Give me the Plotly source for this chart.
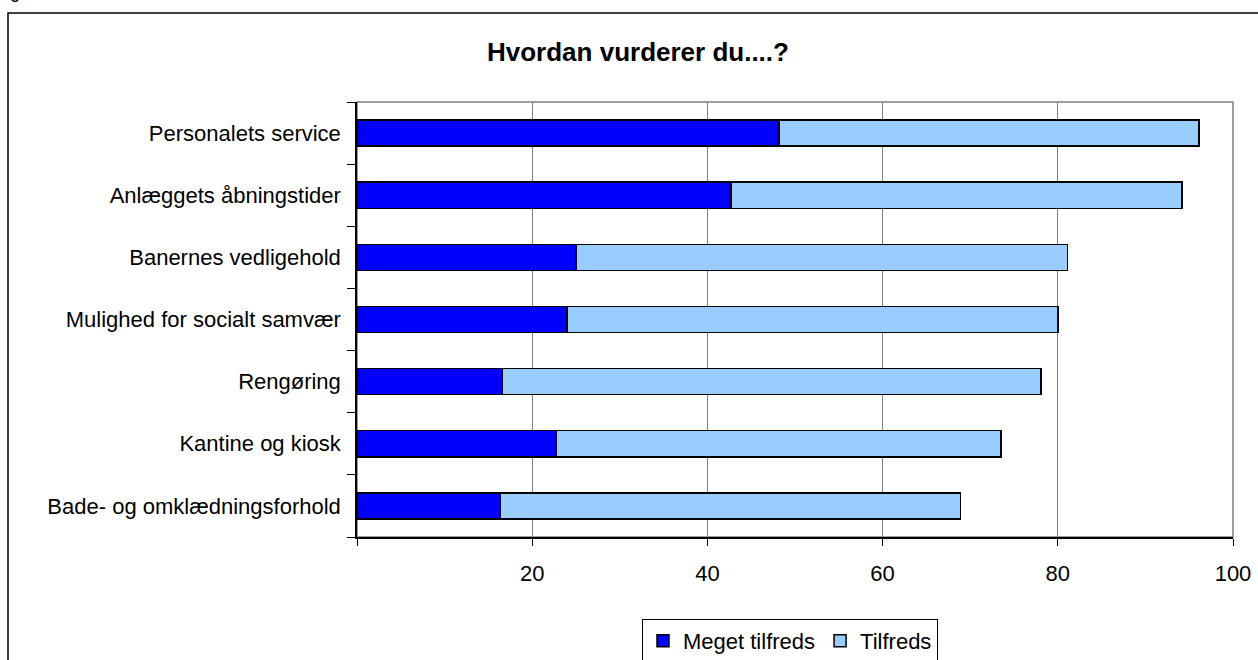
import plotly.graph_objects as go

categories = [
    "Personalets service",
    "Anlæggets åbningstider",
    "Banernes vedligehold",
    "Mulighed for socialt samvær",
    "Rengøring",
    "Kantine og kiosk",
    "Bade- og omklædningsforhold",
]
meget_tilfreds = [48.2, 42.7, 25.0, 24.0, 16.6, 22.8, 16.4]
tilfreds = [47.9, 51.5, 56.1, 56.0, 61.5, 50.7, 52.5]
x_ticks = [0, 20, 40, 60, 80, 100]
x_ticktext = ["", "20", "40", "60", "80", "100"]

W, H = 1258, 660
L, R, T, B = 357, 1233, 102, 537
pw, ph = R - L, B - T


def px(x):
    return (x - L) / pw


def py(y):
    return (B - y) / ph


FONT = "Liberation Sans, Arial, sans-serif"

fig = go.Figure()
fig.add_trace(go.Bar(
    y=categories, x=meget_tilfreds, orientation="h", name="Meget tilfreds",
    marker=dict(color="#0000FF", line=dict(color="#000000", width=1.5)),
))
fig.add_trace(go.Bar(
    y=categories, x=tilfreds, orientation="h", name="Tilfreds",
    marker=dict(color="#99CCFF", line=dict(color="#000000", width=1.5)),
))

fig.update_layout(
    width=W, height=H,
    margin=dict(l=L, r=W - R, t=T, b=H - B, autoexpand=False),
    barmode="stack", bargap=0.58,
    paper_bgcolor="white", plot_bgcolor="white",
    font=dict(family=FONT, size=22, color="black"),
    showlegend=True,
    legend=dict(
        orientation="h", x=px(790), xanchor="center", y=py(619), yanchor="top",
        bordercolor="black", borderwidth=1, font=dict(size=22),
        traceorder="normal", itemwidth=30, tracegroupgap=0,
    ),
    xaxis=dict(
        range=[0, 100], tickvals=x_ticks, ticktext=x_ticktext,
        showgrid=True, gridcolor="#808080", gridwidth=1,
        showline=True, linecolor="black", linewidth=1.5,
        ticks="outside", ticklen=7, tickcolor="black", tickwidth=1,
        ticklabelstandoff=9, zeroline=False, fixedrange=True,
    ),
    yaxis=dict(
        categoryorder="array", categoryarray=categories[::-1],
        showline=True, linecolor="black", linewidth=1.5,
        ticks="outside", ticklen=8, tickcolor="black", tickwidth=1,
        tickson="boundaries", ticklabelstandoff=10, showgrid=False,
        fixedrange=True,
    ),
    shapes=[
        dict(type="rect", xref="paper", yref="paper", x0=0, x1=1, y0=0, y1=1,
             line=dict(color="#808080", width=1.5), layer="below"),
        dict(type="rect", xref="paper", yref="paper",
             x0=px(8), x1=px(1275), y0=py(13), y1=py(700),
             line=dict(color="black", width=1.5), layer="above"),
    ],
    annotations=[
        dict(text="<b>Hvordan vurderer du....?</b>", xref="paper", yref="paper",
             x=px(638), y=py(52), xanchor="center", yanchor="middle",
             showarrow=False, font=dict(size=26, family=FONT)),
        dict(text="Figur", xref="paper", yref="paper",
             x=px(-7), y=py(4), xanchor="left", yanchor="bottom",
             showarrow=False, font=dict(size=18, family=FONT)),
    ],
)

fig.write_html(
    "out.html",
    config={"displayModeBar": False},
    post_script="document.body.style.margin='0';document.body.style.overflow='hidden';",
)
